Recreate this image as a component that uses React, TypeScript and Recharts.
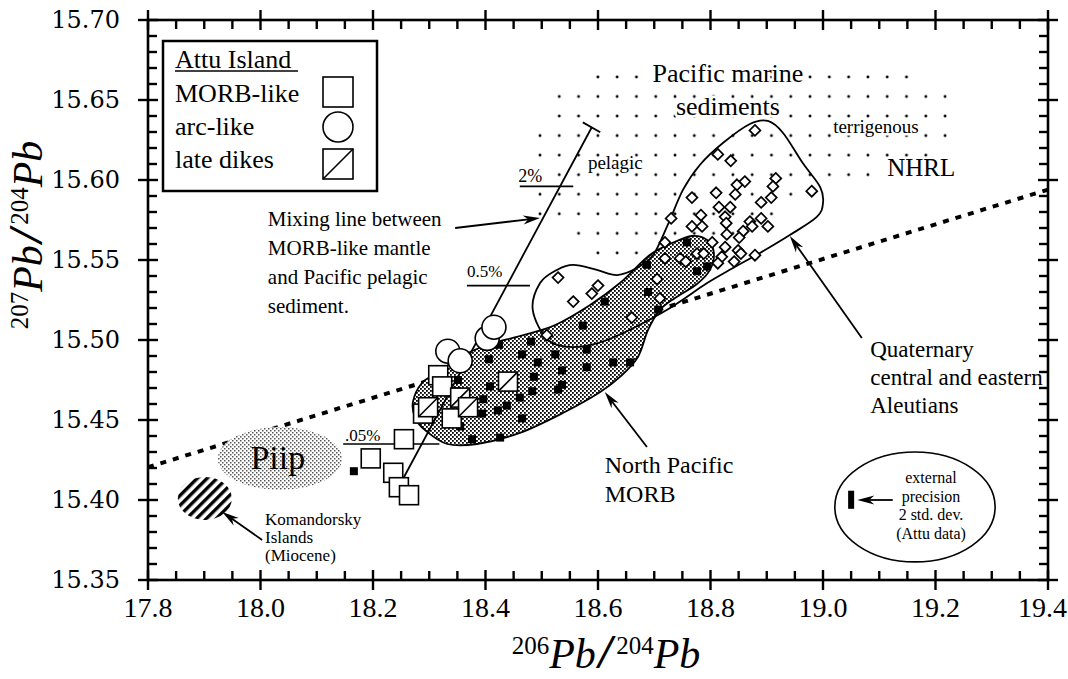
import React from 'react';
import { ScatterChart, Scatter, XAxis, YAxis } from 'recharts';

// ---- axes ----
const xTicks = [17.8, 17.85, 17.9, 17.95, 18.0, 18.05, 18.1, 18.15, 18.2, 18.25, 18.3, 18.35, 18.4, 18.45, 18.5, 18.55, 18.6, 18.65, 18.7, 18.75, 18.8, 18.85, 18.9, 18.95, 19.0, 19.05, 19.1, 19.15, 19.2, 19.25, 19.3, 19.35, 19.4];
const xMajor = [17.8, 18.0, 18.2, 18.4, 18.6, 18.8, 19.0, 19.2, 19.4];
const yTicks = [15.35, 15.36, 15.37, 15.38, 15.39, 15.4, 15.41, 15.42, 15.43, 15.44, 15.45, 15.46, 15.47, 15.48, 15.49, 15.5, 15.51, 15.52, 15.53, 15.54, 15.55, 15.56, 15.57, 15.58, 15.59, 15.6, 15.61, 15.62, 15.63, 15.64, 15.65, 15.66, 15.67, 15.68, 15.69, 15.7];
const yMajor = [15.35, 15.4, 15.45, 15.5, 15.55, 15.6, 15.65, 15.7];
const X_MIN = 17.8, X_MAX = 19.4, Y_MIN = 15.35, Y_MAX = 15.7;

// chart layout
const W = 1068, H = 679;
const MARGIN = { top: 20, right: 20, bottom: 0, left: 0 };
const Y_AXIS_W = 148, X_AXIS_H = 99;
const PLOT = {
  left: MARGIN.left + Y_AXIS_W,
  right: W - MARGIN.right,
  top: MARGIN.top,
  bottom: H - MARGIN.bottom - X_AXIS_H,
};

// ---- fields (outlines) ----
const sedimentField = [
  { x: 18.586, y: 15.6706 }, { x: 19.164, y: 15.6706 }, { x: 19.164, y: 15.6581 }, { x: 19.235, y: 15.6581 },
  { x: 19.235, y: 15.6219 }, { x: 19.19, y: 15.6125 }, { x: 19.101, y: 15.605 }, { x: 19.098, y: 15.5975 },
  { x: 18.959, y: 15.5938 }, { x: 18.956, y: 15.5856 }, { x: 18.924, y: 15.5825 }, { x: 18.92, y: 15.5738 },
  { x: 18.861, y: 15.57 }, { x: 18.858, y: 15.5613 }, { x: 18.719, y: 15.5575 }, { x: 18.716, y: 15.5488 },
  { x: 18.586, y: 15.5488 }, { x: 18.582, y: 15.5606 }, { x: 18.55, y: 15.5606 }, { x: 18.547, y: 15.5725 },
  { x: 18.479, y: 15.5725 }, { x: 18.479, y: 15.6325 }, { x: 18.515, y: 15.6338 }, { x: 18.515, y: 15.6575 },
  { x: 18.586, y: 15.6588 },
];
const morbField = [
  { x: 18.271, y: 15.4613 }, { x: 18.287, y: 15.4731 }, { x: 18.316, y: 15.48 }, { x: 18.358, y: 15.49 },
  { x: 18.408, y: 15.4975 }, { x: 18.461, y: 15.5025 }, { x: 18.524, y: 15.5094 }, { x: 18.586, y: 15.5219 },
  { x: 18.639, y: 15.5356 }, { x: 18.692, y: 15.5531 }, { x: 18.732, y: 15.5606 }, { x: 18.767, y: 15.565 },
  { x: 18.794, y: 15.5625 }, { x: 18.806, y: 15.5544 }, { x: 18.799, y: 15.5438 }, { x: 18.776, y: 15.535 },
  { x: 18.737, y: 15.5263 }, { x: 18.71, y: 15.5188 }, { x: 18.689, y: 15.5063 }, { x: 18.671, y: 15.4894 },
  { x: 18.639, y: 15.4769 }, { x: 18.604, y: 15.4675 }, { x: 18.541, y: 15.455 }, { x: 18.461, y: 15.4419 },
  { x: 18.385, y: 15.435 }, { x: 18.332, y: 15.435 }, { x: 18.292, y: 15.4438 }, { x: 18.275, y: 15.4513 },
];
const aleutianField = [
  { x: 18.484, y: 15.5188 }, { x: 18.497, y: 15.5356 }, { x: 18.527, y: 15.5438 }, { x: 18.556, y: 15.5469 },
  { x: 18.598, y: 15.5438 }, { x: 18.634, y: 15.5406 }, { x: 18.669, y: 15.545 }, { x: 18.698, y: 15.5531 },
  { x: 18.724, y: 15.5719 }, { x: 18.751, y: 15.5938 }, { x: 18.781, y: 15.6094 }, { x: 18.822, y: 15.6231 },
  { x: 18.87, y: 15.635 }, { x: 18.902, y: 15.6369 }, { x: 18.929, y: 15.6294 }, { x: 18.964, y: 15.6106 },
  { x: 18.995, y: 15.5956 }, { x: 19.0, y: 15.5856 }, { x: 18.989, y: 15.5769 }, { x: 18.941, y: 15.5656 },
  { x: 18.888, y: 15.5544 }, { x: 18.84, y: 15.545 }, { x: 18.794, y: 15.5356 }, { x: 18.716, y: 15.5175 },
  { x: 18.616, y: 15.5 }, { x: 18.556, y: 15.4956 }, { x: 18.511, y: 15.5 },
];
// ellipses given by their bounding box corners
const piipField = [{ x: 17.924, y: 15.4063 }, { x: 18.145, y: 15.4456 }];
const komandorskyField = [{ x: 17.853, y: 15.3875 }, { x: 17.949, y: 15.4144 }];
const precisionField = [{ x: 19.021, y: 15.3613 }, { x: 19.306, y: 15.43 }];
const precisionBar = [{ x: 19.05, y: 15.3945 }, { x: 19.05, y: 15.4058 }];

// ---- lines ----
const nhrl = [{ x: 17.8, y: 15.4205 }, { x: 19.4, y: 15.594 }];
const mixingLine = [{ x: 18.253, y: 15.413 }, { x: 18.589, y: 15.633 }];
const mixingEnd = [{ x: 18.573, y: 15.636 }, { x: 18.604, y: 15.6298 }];
const mix005 = [{ x: 18.147, y: 15.435 }, { x: 18.318, y: 15.435 }];
const mix05 = [{ x: 18.367, y: 15.534 }, { x: 18.479, y: 15.534 }];
const mix2 = [{ x: 18.461, y: 15.596 }, { x: 18.556, y: 15.596 }];

// ---- samples ----
const morbSamples = [
  { x: 18.406, y: 15.488 }, { x: 18.424, y: 15.497 }, { x: 18.465, y: 15.491 }, { x: 18.481, y: 15.499 },
  { x: 18.493, y: 15.486 }, { x: 18.524, y: 15.491 }, { x: 18.536, y: 15.481 }, { x: 18.58, y: 15.494 },
  { x: 18.58, y: 15.483 }, { x: 18.627, y: 15.486 }, { x: 18.657, y: 15.486 }, { x: 18.408, y: 15.471 },
  { x: 18.396, y: 15.463 }, { x: 18.394, y: 15.454 }, { x: 18.422, y: 15.456 }, { x: 18.438, y: 15.459 },
  { x: 18.461, y: 15.464 }, { x: 18.486, y: 15.477 }, { x: 18.483, y: 15.468 }, { x: 18.529, y: 15.469 },
  { x: 18.536, y: 15.472 }, { x: 18.465, y: 15.451 }, { x: 18.426, y: 15.439 }, { x: 18.376, y: 15.438 },
  { x: 18.355, y: 15.446 }, { x: 18.351, y: 15.475 }, { x: 18.687, y: 15.547 }, { x: 18.689, y: 15.53 },
  { x: 18.612, y: 15.524 }, { x: 18.573, y: 15.509 }, { x: 18.758, y: 15.561 }, { x: 18.776, y: 15.543 },
  { x: 18.794, y: 15.546 }, { x: 18.166, y: 15.418 }, { x: 18.349, y: 15.468 }, { x: 18.707, y: 15.519 },
];
const aleutianSamples = [
  { x: 18.879, y: 15.631 }, { x: 18.813, y: 15.616 }, { x: 18.836, y: 15.612 }, { x: 18.861, y: 15.599 },
  { x: 18.847, y: 15.597 }, { x: 18.916, y: 15.601 }, { x: 18.911, y: 15.596 }, { x: 18.98, y: 15.593 },
  { x: 18.81, y: 15.592 }, { x: 18.767, y: 15.589 }, { x: 18.844, y: 15.591 }, { x: 18.908, y: 15.589 },
  { x: 18.89, y: 15.586 }, { x: 18.835, y: 15.583 }, { x: 18.815, y: 15.583 }, { x: 18.73, y: 15.576 },
  { x: 18.783, y: 15.578 }, { x: 18.826, y: 15.577 }, { x: 18.767, y: 15.571 }, { x: 18.785, y: 15.571 },
  { x: 18.828, y: 15.573 }, { x: 18.87, y: 15.574 }, { x: 18.89, y: 15.576 }, { x: 18.902, y: 15.571 },
  { x: 18.829, y: 15.566 }, { x: 18.874, y: 15.571 }, { x: 18.858, y: 15.568 }, { x: 18.851, y: 15.564 },
  { x: 18.719, y: 15.561 }, { x: 18.826, y: 15.558 }, { x: 18.849, y: 15.556 }, { x: 18.803, y: 15.561 },
  { x: 18.776, y: 15.554 }, { x: 18.788, y: 15.554 }, { x: 18.719, y: 15.551 }, { x: 18.746, y: 15.551 },
  { x: 18.756, y: 15.549 }, { x: 18.82, y: 15.552 }, { x: 18.854, y: 15.554 }, { x: 18.879, y: 15.553 },
  { x: 18.813, y: 15.548 }, { x: 18.842, y: 15.549 }, { x: 18.705, y: 15.538 }, { x: 18.529, y: 15.539 },
  { x: 18.6, y: 15.534 }, { x: 18.589, y: 15.529 }, { x: 18.556, y: 15.524 }, { x: 18.509, y: 15.503 },
  { x: 18.66, y: 15.514 }, { x: 18.71, y: 15.526 },
];
const attuMorbLike = [
  { x: 18.289, y: 15.454 }, { x: 18.255, y: 15.438 }, { x: 18.196, y: 15.426 }, { x: 18.236, y: 15.417 },
  { x: 18.246, y: 15.408 }, { x: 18.264, y: 15.403 }, { x: 18.316, y: 15.478 }, { x: 18.323, y: 15.471 },
  { x: 18.34, y: 15.451 },
];
const attuArcLike = [
  { x: 18.333, y: 15.493 }, { x: 18.355, y: 15.487 }, { x: 18.403, y: 15.501 }, { x: 18.415, y: 15.508 },
];
const attuLateDikes = [
  { x: 18.298, y: 15.458 }, { x: 18.355, y: 15.464 }, { x: 18.369, y: 15.458 }, { x: 18.44, y: 15.474 },
];

// ---- arrows (tail, head) ----
const arrows = [
  [{ x: 18.346, y: 15.57 }, { x: 18.497, y: 15.5763 }],
  [{ x: 19.069, y: 15.5013 }, { x: 18.941, y: 15.565 }],
  [{ x: 18.687, y: 15.4331 }, { x: 18.612, y: 15.4675 }],
  [{ x: 18.003, y: 15.375 }, { x: 17.932, y: 15.3925 }],
  [{ x: 19.124, y: 15.4 }, { x: 19.061, y: 15.4 }],
];

// ---- annotations ----
const notes = [
  { x: 18.831, y: 15.6613, lines: ['Pacific marine', 'sediments'], size: 26, lh: 33, anchor: 'middle', halo: true },
  { x: 18.582, y: 15.6069, lines: ['pelagic'], size: 19, lh: 0, anchor: 'start', halo: true },
  { x: 19.018, y: 15.6294, lines: ['terrigenous'], size: 19, lh: 0, anchor: 'start', halo: true },
  { x: 18.458, y: 15.5988, lines: ['2%'], size: 18, lh: 0, anchor: 'start', halo: true },
  { x: 18.367, y: 15.5394, lines: ['0.5%'], size: 17, lh: 0, anchor: 'start', halo: false },
  { x: 18.15, y: 15.4369, lines: ['.05%'], size: 17, lh: 0, anchor: 'start', halo: false },
  { x: 18.013, y: 15.5713, lines: ['Mixing line between', 'MORB-like mantle', 'and Pacific pelagic', 'sediment.'], size: 21, lh: 29, anchor: 'start', halo: false },
  { x: 19.084, y: 15.4894, lines: ['Quaternary', 'central and eastern', 'Aleutians'], size: 23, lh: 28, anchor: 'start', halo: false },
  { x: 18.612, y: 15.4169, lines: ['North Pacific', 'MORB'], size: 24, lh: 29, anchor: 'start', halo: false },
  { x: 19.114, y: 15.6025, lines: ['NHRL'], size: 25, lh: 0, anchor: 'start', halo: false },
  { x: 17.982, y: 15.4195, lines: ['Piip'], size: 34, lh: 0, anchor: 'start', halo: false },
  { x: 18.008, y: 15.3844, lines: ['Komandorsky', 'Islands', '(Miocene)'], size: 17, lh: 18, anchor: 'start', halo: false },
  { x: 19.192, y: 15.4106, lines: ['external', 'precision', '2 std. dev.', '(Attu data)'], size: 16, lh: 18.5, anchor: 'middle', halo: false },
];

const SERIF = "'Liberation Serif', 'Times New Roman', serif";
const isMajor = (list: number[], v: number) => list.some((m) => Math.abs(m - v) < 1e-6);

const smoothClosed = (pts: { x: number; y: number }[]) => {
  const n = pts.length;
  let d = `M${pts[0].x},${pts[0].y}`;
  for (let i = 0; i < n; i++) {
    const p0 = pts[(i - 1 + n) % n], p1 = pts[i], p2 = pts[(i + 1) % n], p3 = pts[(i + 2) % n];
    const c1x = p1.x + (p2.x - p0.x) / 6, c1y = p1.y + (p2.y - p0.y) / 6;
    const c2x = p2.x - (p3.x - p1.x) / 6, c2y = p2.y - (p3.y - p1.y) / 6;
    d += ` C${c1x},${c1y} ${c2x},${c2y} ${p2.x},${p2.y}`;
  }
  return d + ' Z';
};
const straightClosed = (pts: { x: number; y: number }[]) =>
  'M' + pts.map((p) => `${p.x},${p.y}`).join(' L') + ' Z';

const none = () => <g />;

const Patterns = () => (
  <defs>
    <pattern id="sedDots" x={530.35} y={67.2} width={19.29} height={19.55} patternUnits="userSpaceOnUse">
      <circle cx={9.65} cy={9.8} r={1.45} fill="#000" />
    </pattern>
    <pattern id="stipple" width={4} height={4} patternUnits="userSpaceOnUse">
      <rect width={4} height={4} fill="#fff" />
      <rect x={0} y={0} width={1.8} height={1.8} fill="#000" />
      <rect x={2} y={2} width={1.8} height={1.8} fill="#000" />
    </pattern>
    <pattern id="lightStipple" width={4} height={4} patternUnits="userSpaceOnUse">
      <rect width={4} height={4} fill="#fff" />
      <rect x={0} y={0} width={1.5} height={1.5} fill="#555" />
      <rect x={2} y={2} width={1.5} height={1.5} fill="#555" />
    </pattern>
    <pattern id="hatch" width={7} height={7} patternUnits="userSpaceOnUse" patternTransform="rotate(45)">
      <rect width={7} height={7} fill="#fff" />
      <rect width={3.4} height={7} fill="#000" />
    </pattern>
  </defs>
);

const sedimentLine = (p: any) => (
  <g>
    <Patterns />
    <path d={straightClosed(p.points)} fill="url(#sedDots)" stroke="none" />
  </g>
);
const morbLine = (p: any) => <path d={smoothClosed(p.points)} fill="url(#stipple)" stroke="#000" strokeWidth={1.8} />;
const aleutianLine = (p: any) => <path d={smoothClosed(p.points)} fill="none" stroke="#000" strokeWidth={1.8} />;
const ellipseLine = (fill: string, stroke: string) => (p: any) => {
  const [a, b] = p.points;
  return (
    <ellipse cx={(a.x + b.x) / 2} cy={(a.y + b.y) / 2} rx={Math.abs(b.x - a.x) / 2} ry={Math.abs(b.y - a.y) / 2}
      fill={fill} stroke={stroke} strokeWidth={1.6} />
  );
};
const barLine = (p: any) => {
  const [a, b] = p.points;
  return <rect x={a.x - 3} y={Math.min(a.y, b.y)} width={6} height={Math.abs(b.y - a.y)} fill="#000" />;
};
const plainLine = (w: number, dash?: string) => (p: any) => {
  const [a, b] = p.points;
  return <line x1={a.x} y1={a.y} x2={b.x} y2={b.y} stroke="#000" strokeWidth={w} strokeDasharray={dash} />;
};
const arrowLine = (p: any) => {
  const [a, b] = p.points;
  const dx = b.x - a.x, dy = b.y - a.y, len = Math.hypot(dx, dy) || 1;
  const ux = dx / len, uy = dy / len, hl = 17, hw = 4.5;
  const bx = b.x - ux * hl, by = b.y - uy * hl;
  const nx = b.x - ux * hl * 0.7, ny = b.y - uy * hl * 0.7;
  return (
    <g>
      <line x1={a.x} y1={a.y} x2={nx} y2={ny} stroke="#000" strokeWidth={1.8} />
      <polygon points={`${b.x},${b.y} ${bx - uy * hw},${by + ux * hw} ${nx},${ny} ${bx + uy * hw},${by - ux * hw}`} fill="#000" />
    </g>
  );
};

const BlackSquare = (p: any) => <rect x={p.cx - 4} y={p.cy - 4} width={8} height={8} fill="#000" />;
const Diamond = (p: any) => (
  <polygon points={`${p.cx},${p.cy - 5.5} ${p.cx + 5.5},${p.cy} ${p.cx},${p.cy + 5.5} ${p.cx - 5.5},${p.cy}`}
    fill="#fff" stroke="#000" strokeWidth={1.7} />
);
const OpenSquare = (p: any) => <rect x={p.cx - 9.5} y={p.cy - 9.5} width={19} height={19} fill="#fff" stroke="#000" strokeWidth={1.6} />;
const SlashSquare = (p: any) => (
  <g>
    <rect x={p.cx - 9.5} y={p.cy - 9.5} width={19} height={19} fill="#fff" stroke="#000" strokeWidth={1.6} />
    <line x1={p.cx - 9.5} y1={p.cy + 9.5} x2={p.cx + 9.5} y2={p.cy - 9.5} stroke="#000" strokeWidth={1.6} />
  </g>
);
const OpenCircle = (p: any) => <circle cx={p.cx} cy={p.cy} r={12} fill="#fff" stroke="#000" strokeWidth={1.6} />;

const noteShape = (n: any) => (p: any) => (
  <text x={p.cx} y={p.cy} fontFamily={SERIF} fontSize={n.size} textAnchor={n.anchor} fill="#000"
    stroke={n.halo ? '#fff' : 'none'} strokeWidth={n.halo ? 5 : 0} paintOrder="stroke" strokeLinejoin="round">
    {n.lines.map((l: string, i: number) => (
      <tspan key={i} x={p.cx} dy={i === 0 ? 0 : n.lh}>{l}</tspan>
    ))}
  </text>
);

const BottomLabel = (p: any) => {
  const v = p.payload.value;
  if (!isMajor(xMajor, v)) return <g />;
  const last = Math.abs(v - X_MAX) < 1e-6;
  return (
    <text x={last ? p.x + 19 : p.x} y={p.y + 37} textAnchor={last ? 'end' : 'middle'} fontFamily={SERIF} fontSize={28} fill="#000">
      {v.toFixed(1)}
    </text>
  );
};
const LeftLabel = (p: any) => {
  const v = p.payload.value;
  if (!isMajor(yMajor, v)) return <g />;
  return (
    <text x={p.x - 28} y={p.y + 8} textAnchor="end" fontFamily="'DejaVu Serif', serif" fontSize={24} fill="#000">{v.toFixed(2)}</text>
  );
};

const RatioTitle = ({ cx, cy, top, rotate }: { cx: number; cy: number; top: string; rotate?: boolean }) => (
  <text x={cx} y={cy} textAnchor="middle" fontFamily={SERIF} fill="#000"
    transform={rotate ? `rotate(-90, ${cx}, ${cy})` : undefined}>
    <tspan fontSize={25} dy={-14}>{top}</tspan>
    <tspan fontSize={42} fontStyle="italic" dy={14}>Pb</tspan>
    <tspan fontSize={48} fontWeight="bold" fontStyle="italic" dx={3}>/</tspan>
    <tspan fontSize={25} dy={-14} dx={4}>204</tspan>
    <tspan fontSize={42} fontStyle="italic" dy={14}>Pb</tspan>
  </text>
);

// frame and tick marks on all four sides (majors cross the frame, minors point inward)
const Frame = () => {
  const px = (v: number) => PLOT.left + ((v - X_MIN) / (X_MAX - X_MIN)) * (PLOT.right - PLOT.left);
  const py = (v: number) => PLOT.bottom - ((v - Y_MIN) / (Y_MAX - Y_MIN)) * (PLOT.bottom - PLOT.top);
  const marks: any[] = [];
  xTicks.forEach((v, k) => {
    const m = isMajor(xMajor, v), x = px(v), out = m ? 10 : 0, inn = m ? 10 : 9;
    marks.push(<line key={`xb${k}`} x1={x} x2={x} y1={PLOT.bottom + out} y2={PLOT.bottom - inn} />);
    marks.push(<line key={`xt${k}`} x1={x} x2={x} y1={PLOT.top - out} y2={PLOT.top + inn} />);
  });
  yTicks.forEach((v, k) => {
    const m = isMajor(yMajor, v), y = py(v), out = m ? 10 : 0, inn = m ? 10 : 9;
    marks.push(<line key={`yl${k}`} x1={PLOT.left - out} x2={PLOT.left + inn} y1={y} y2={y} />);
    marks.push(<line key={`yr${k}`} x1={PLOT.right + out} x2={PLOT.right - inn} y1={y} y2={y} />);
  });
  return (
    <g stroke="#000" fill="none">
      <rect x={PLOT.left} y={PLOT.top} width={PLOT.right - PLOT.left} height={PLOT.bottom - PLOT.top} strokeWidth={2.6} />
      <g strokeWidth={2.4}>{marks}</g>
    </g>
  );
};

const Overlay = () => (
  <svg width={W} height={H} style={{ position: 'absolute', left: 0, top: 0, pointerEvents: 'none' }}>
    <Frame />
    <rect x={163} y={41} width={214} height={150} fill="#fff" stroke="#000" strokeWidth={2.5} />
    <g fontFamily={SERIF} fontSize={26} fill="#000">
      <text x={175} y={68}>Attu Island</text>
      <line x1={175} x2={298} y1={71} y2={71} stroke="#000" strokeWidth={1.6} />
      <text x={175} y={102}>MORB-like</text>
      <text x={175} y={135}>arc-like</text>
      <text x={175} y={168}>late dikes</text>
    </g>
    <rect x={323} y={77} width={30} height={30} fill="#fff" stroke="#000" strokeWidth={1.6} />
    <circle cx={338} cy={127} r={15} fill="#fff" stroke="#000" strokeWidth={1.6} />
    <rect x={323} y={149} width={30} height={30} fill="#fff" stroke="#000" strokeWidth={1.6} />
    <line x1={323} y1={179} x2={353} y2={149} stroke="#000" strokeWidth={1.6} />
  </svg>
);

export default function App() {
  return (
    <div style={{ position: 'absolute', left: 0, top: 0, width: W, height: H, background: '#fff' }}>
      <ScatterChart width={W} height={H} margin={MARGIN}>
        <XAxis type="number" dataKey="x" domain={[X_MIN, X_MAX]} ticks={xTicks} interval={0}
          height={X_AXIS_H} tickSize={0} tickMargin={0} tick={<BottomLabel />} tickLine={false} axisLine={false}
          label={{ content: (lp: any) => {
            const vb = lp.viewBox || { x: 148, y: 580, width: 900 };
            return <RatioTitle cx={vb.x + vb.width / 2 + 8} cy={vb.y + 88} top="206" />;
          } }} />
        <YAxis type="number" dataKey="y" domain={[Y_MIN, Y_MAX]} ticks={yTicks} interval={0}
          width={Y_AXIS_W} tickSize={0} tickMargin={0} tick={<LeftLabel />} tickLine={false} axisLine={false}
          label={{ content: (lp: any) => {
            const vb = lp.viewBox || { x: 0, y: 20, height: 560 };
            return <RatioTitle cx={42} cy={vb.y + vb.height / 2 - 65} top="207" rotate />;
          } }} />

        <Scatter data={sedimentField} line={sedimentLine} shape={none} isAnimationActive={false} />
        <Scatter data={nhrl} line={plainLine(4, '6 7')} shape={none} isAnimationActive={false} />
        <Scatter data={piipField} line={ellipseLine('url(#lightStipple)', 'none')} shape={none} isAnimationActive={false} />
        <Scatter data={komandorskyField} line={ellipseLine('url(#hatch)', 'none')} shape={none} isAnimationActive={false} />
        <Scatter data={morbField} line={morbLine} shape={none} isAnimationActive={false} />
        <Scatter data={aleutianField} line={aleutianLine} shape={none} isAnimationActive={false} />
        <Scatter data={mixingLine} line={plainLine(1.8)} shape={none} isAnimationActive={false} />
        <Scatter data={mixingEnd} line={plainLine(1.8)} shape={none} isAnimationActive={false} />
        <Scatter data={mix005} line={plainLine(1.6)} shape={none} isAnimationActive={false} />
        <Scatter data={mix05} line={plainLine(1.6)} shape={none} isAnimationActive={false} />
        <Scatter data={mix2} line={plainLine(1.6)} shape={none} isAnimationActive={false} />

        <Scatter data={morbSamples} shape={BlackSquare} isAnimationActive={false} />
        <Scatter data={aleutianSamples} shape={Diamond} isAnimationActive={false} />
        <Scatter data={attuMorbLike} shape={OpenSquare} isAnimationActive={false} />
        <Scatter data={attuLateDikes} shape={SlashSquare} isAnimationActive={false} />
        <Scatter data={attuArcLike} shape={OpenCircle} isAnimationActive={false} />

        <Scatter data={precisionField} line={ellipseLine('none', '#000')} shape={none} isAnimationActive={false} />
        <Scatter data={precisionBar} line={barLine} shape={none} isAnimationActive={false} />
        {arrows.map((a, i) => (
          <Scatter key={`arrow-${i}`} data={a} line={arrowLine} shape={none} isAnimationActive={false} />
        ))}
        {notes.map((n, i) => (
          <Scatter key={`note-${i}`} data={[{ x: n.x, y: n.y }]} shape={noteShape(n)} isAnimationActive={false} />
        ))}
      </ScatterChart>
      <Overlay />
    </div>
  );
}
